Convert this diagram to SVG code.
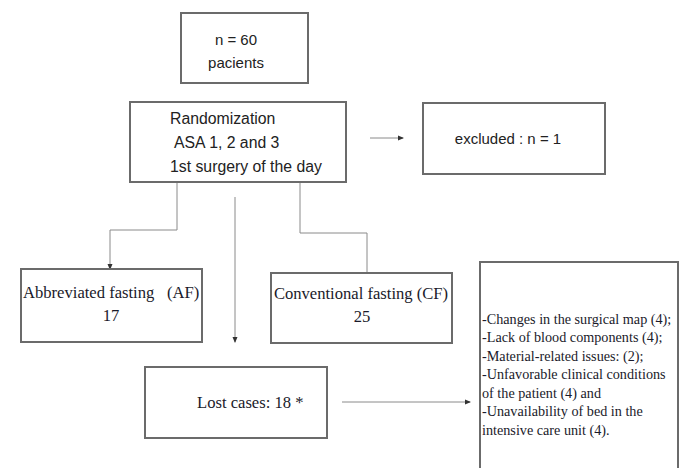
<svg xmlns="http://www.w3.org/2000/svg" width="683" height="468" viewBox="0 0 683 468">
<style>
.box{fill:#fff;stroke:#6b6b6b;stroke-width:2}
.sans{font-family:"Liberation Sans",Arial,sans-serif;font-size:15px;fill:#222}
.rand{font-size:15.8px}
.serif{font-family:"Liberation Serif","Times New Roman",serif;font-size:16.6px;fill:#1a1a2a}
.small{font-family:"Liberation Serif","Times New Roman",serif;font-size:14.2px;fill:#1a1a2a}
.con{fill:none;stroke:#8a8a8a;stroke-width:1}
</style>
<defs>
<marker id="arr" markerWidth="6" markerHeight="6" refX="5" refY="3" orient="auto" markerUnits="userSpaceOnUse">
<path d="M0,0.5 L6,3 L0,5.5 z" fill="#333"/>
</marker>
</defs>
<rect width="683" height="468" fill="#fff"/>
<g id="connectors">
<line class="con" x1="370" y1="138" x2="403" y2="138" marker-end="url(#arr)"/>
<polyline class="con" points="177,183 177,230 110,230 110,269" marker-end="url(#arr)"/>
<line class="con" x1="235" y1="197" x2="235" y2="342" marker-end="url(#arr)"/>
<polyline class="con" points="300,183 300,233 367,233 367,273"/>
<line class="con" x1="342" y1="402" x2="470" y2="402" marker-end="url(#arr)"/>
</g>
<g id="n60">
<rect class="box" x="181" y="13" width="127" height="70"/>
<text class="sans" x="236" y="45" text-anchor="middle">n = 60</text>
<text class="sans" x="236" y="68" text-anchor="middle">pacients</text>
</g>
<g id="randomization">
<rect class="box" x="130" y="102" width="216" height="80"/>
<text class="sans rand" x="170" y="124">Randomization</text>
<text class="sans rand" x="174" y="148">ASA 1, 2 and 3</text>
<text class="sans rand" x="170" y="172">1st surgery of the day</text>
</g>
<g id="excluded">
<rect class="box" x="423" y="103" width="182" height="71"/>
<text class="sans" x="508" y="144" text-anchor="middle">excluded : n = 1</text>
</g>
<g id="af">
<rect class="box" x="21" y="269" width="181" height="73"/>
<text class="serif" x="23" y="298">Abbreviated fasting <tspan x="167">(AF)</tspan></text>
<text class="serif" x="111" y="321" text-anchor="middle">17</text>
</g>
<g id="cf">
<rect class="box" x="271" y="273" width="181" height="70"/>
<text class="serif" x="361" y="299" text-anchor="middle">Conventional fasting (CF)</text>
<text class="serif" x="362" y="322" text-anchor="middle">25</text>
</g>
<g id="lost">
<rect class="box" x="145" y="367" width="182" height="71"/>
<text class="serif" x="197" y="408">Lost cases: 18 *</text>
</g>
<g id="reasons">
<rect class="box" x="480" y="262" width="198" height="212"/>
<text class="small" x="482" y="324">-Changes in the surgical map (4);</text>
<text class="small" x="482" y="342">-Lack of blood components (4);</text>
<text class="small" x="482" y="361">-Material-related issues: (2);</text>
<text class="small" x="482" y="379">-Unfavorable clinical conditions</text>
<text class="small" x="482" y="398">of the patient (4) and</text>
<text class="small" x="482" y="416">-Unavailability of bed in the</text>
<text class="small" x="482" y="435">intensive care unit (4).</text>
</g>
</svg>
